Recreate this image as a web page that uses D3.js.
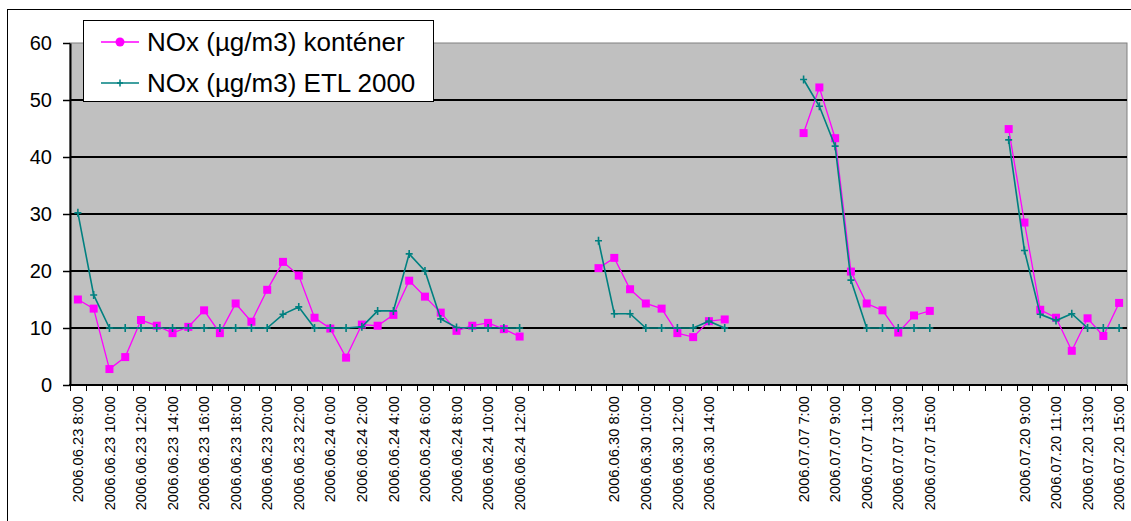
<!DOCTYPE html>
<html><head><meta charset="utf-8">
<script src="https://cdn.jsdelivr.net/npm/d3@7"></script>
<style>
body{margin:0;background:#fff}
svg{display:block}
text{font-family:"Liberation Sans",Arial,sans-serif;fill:#000}
</style></head>
<body><svg id="c" width="1131" height="521"></svg>
<script>
const categories = [
  "2006.06.23 8:00","2006.06.23 9:00","2006.06.23 10:00","2006.06.23 11:00","2006.06.23 12:00",
  "2006.06.23 13:00","2006.06.23 14:00","2006.06.23 15:00","2006.06.23 16:00","2006.06.23 17:00",
  "2006.06.23 18:00","2006.06.23 19:00","2006.06.23 20:00","2006.06.23 21:00","2006.06.23 22:00",
  "2006.06.23 23:00","2006.06.24 0:00","2006.06.24 1:00","2006.06.24 2:00","2006.06.24 3:00",
  "2006.06.24 4:00","2006.06.24 5:00","2006.06.24 6:00","2006.06.24 7:00","2006.06.24 8:00",
  "2006.06.24 9:00","2006.06.24 10:00","2006.06.24 11:00","2006.06.24 12:00",
  "","","","",
  "2006.06.30 7:00","2006.06.30 8:00","2006.06.30 9:00","2006.06.30 10:00","2006.06.30 11:00",
  "2006.06.30 12:00","2006.06.30 13:00","2006.06.30 14:00","2006.06.30 15:00",
  "","","","",
  "2006.07.07 7:00","2006.07.07 8:00","2006.07.07 9:00","2006.07.07 10:00","2006.07.07 11:00",
  "2006.07.07 12:00","2006.07.07 13:00","2006.07.07 14:00","2006.07.07 15:00",
  "","","","",
  "2006.07.20 8:00","2006.07.20 9:00","2006.07.20 10:00","2006.07.20 11:00","2006.07.20 12:00",
  "2006.07.20 13:00","2006.07.20 14:00","2006.07.20 15:00"
];

const seriesNames = ["NOx (µg/m3) konténer", "NOx (µg/m3) ETL 2000"];

const kontener = [
  15.0,13.4,2.8,4.9,11.4,10.4,9.1,10.2,13.1,9.1,14.3,11.1,16.7,21.6,19.2,11.8,9.9,4.8,10.6,10.4,12.3,18.3,15.5,12.7,9.5,10.4,10.9,9.8,8.5,
  null,null,null,null,
  20.5,22.3,16.8,14.3,13.4,9.1,8.4,11.2,11.5,
  null,null,null,null,
  44.2,52.2,43.3,19.9,14.3,13.1,9.2,12.2,13.0,
  null,null,null,null,
  44.9,28.5,13.2,11.8,6.0,11.7,8.6,14.4
];

const etl2000 = [
  30.2,15.8,10,10,10,10,10,10,10,10,10,10,10,12.4,13.7,10,10,10,10.2,13,13,23,20,11.6,10.1,10,10,10,10,
  null,null,null,null,
  25.3,12.5,12.5,10,10,10,10,11.2,10,
  null,null,null,null,
  53.6,48.9,41.9,18.4,10,10,10,10,10,
  null,null,null,null,
  43,23.6,12.4,11.3,12.5,10,10,10
];

const yTicks = [0,10,20,30,40,50,60];

const svg = d3.select("#c");

// chart area border (cropped at right/bottom)
svg.append("rect").attr("x",7.5).attr("y",9.5).attr("width",1140).attr("height",540)
  .attr("fill","#fff").attr("stroke","#000").attr("stroke-width",1);

const x = d3.scaleBand().domain(d3.range(categories.length)).range([70,1127]).padding(0);
const bw = x.bandwidth();
const y = d3.scaleLinear().domain([0,60]).range([385,43]);
const cx = i => x(i) + bw/2;

// plot area
svg.append("rect").attr("x",70).attr("y",y(60)).attr("width",x.range()[1]-70).attr("height",y(0)-y(60))
  .attr("fill","#c0c0c0").attr("stroke","#808080").attr("stroke-width",1);

// gridlines
svg.append("g").selectAll("line").data(yTicks.filter(t=>t>0 && t<60)).join("line")
  .attr("x1",70).attr("x2",x.range()[1]).attr("y1",d=>y(d)).attr("y2",d=>y(d))
  .attr("stroke","#000").attr("stroke-width",2);

// y axis
const ya = svg.append("g").attr("transform","translate(70,0)")
  .call(d3.axisLeft(y).tickValues(yTicks).tickSize(7).tickSizeOuter(0).tickPadding(11));
ya.select(".domain").attr("stroke","#000").attr("stroke-width",2);
ya.selectAll(".tick line").attr("stroke","#000").attr("stroke-width",1.5);
ya.selectAll(".tick text").attr("font-size",20).attr("font-family","Liberation Sans, Arial, sans-serif").attr("fill","#000");

// x axis line
svg.append("line").attr("x1",69).attr("x2",x.range()[1]).attr("y1",y(0)).attr("y2",y(0))
  .attr("stroke","#000").attr("stroke-width",2);
// x ticks at category boundaries
const bounds = x.domain().map(i=>x(i)).concat([x.range()[1]]);
svg.append("g").selectAll("line").data(bounds).join("line")
  .attr("x1",d=>Math.round(d)+0.5).attr("x2",d=>Math.round(d)+0.5)
  .attr("y1",y(0)).attr("y2",y(0)+6).attr("stroke","#000").attr("stroke-width",1);

// x labels (every 2nd category)
svg.append("g").selectAll("text")
  .data(categories.map((c,i)=>({c,i})).filter(d=>d.i%2===0 && d.c!==""))
  .join("text")
  .attr("transform",d=>`translate(${cx(d.i)},396) rotate(-90)`)
  .attr("text-anchor","end").attr("dy","0.35em").attr("font-size",14.7)
  .text(d=>d.c);

const line = d3.line().defined(d=>d.v!=null).x(d=>cx(d.i)).y(d=>y(d.v));
const kData = kontener.map((v,i)=>({v,i}));
const eData = etl2000.map((v,i)=>({v,i}));

// series 1: konténer (magenta, squares)
svg.append("path").datum(kData).attr("d",line).attr("fill","none")
  .attr("stroke","#ff00ff").attr("stroke-width",1.3);
svg.append("g").selectAll("rect").data(kData.filter(d=>d.v!=null)).join("rect")
  .attr("x",d=>cx(d.i)-4).attr("y",d=>y(d.v)-4).attr("width",8).attr("height",8)
  .attr("fill","#ff00ff");

// series 2: ETL 2000 (teal, plus)
svg.append("path").datum(eData).attr("d",line).attr("fill","none")
  .attr("stroke","#008080").attr("stroke-width",1.6);
svg.append("g").selectAll("path").data(eData.filter(d=>d.v!=null)).join("path")
  .attr("transform",d=>`translate(${cx(d.i)},${y(d.v)})`)
  .attr("d","M-3.5,0H3.5M0,-4V4").attr("stroke","#008080").attr("stroke-width",1.6).attr("fill","none");

// legend
const lg = svg.append("g");
lg.append("rect").attr("x",83.5).attr("y",20.5).attr("width",350).attr("height",81)
  .attr("fill","#fff").attr("stroke","#000").attr("stroke-width",1);
lg.append("line").attr("x1",101).attr("x2",139).attr("y1",42).attr("y2",42).attr("stroke","#ff00ff").attr("stroke-width",1.5);
lg.append("circle").attr("cx",120).attr("cy",42).attr("r",4.5).attr("fill","#ff00ff");
lg.append("text").attr("x",147).attr("y",51).attr("font-size",26).text(seriesNames[0]);
lg.append("line").attr("x1",101).attr("x2",139).attr("y1",83).attr("y2",83).attr("stroke","#008080").attr("stroke-width",1.6);
lg.append("path").attr("transform","translate(120,83)").attr("d","M-3,0H3M0,-3.5V3.5").attr("stroke","#008080").attr("stroke-width",1.5);
lg.append("text").attr("x",147).attr("y",92).attr("font-size",26).text(seriesNames[1]);
</script></body></html>
